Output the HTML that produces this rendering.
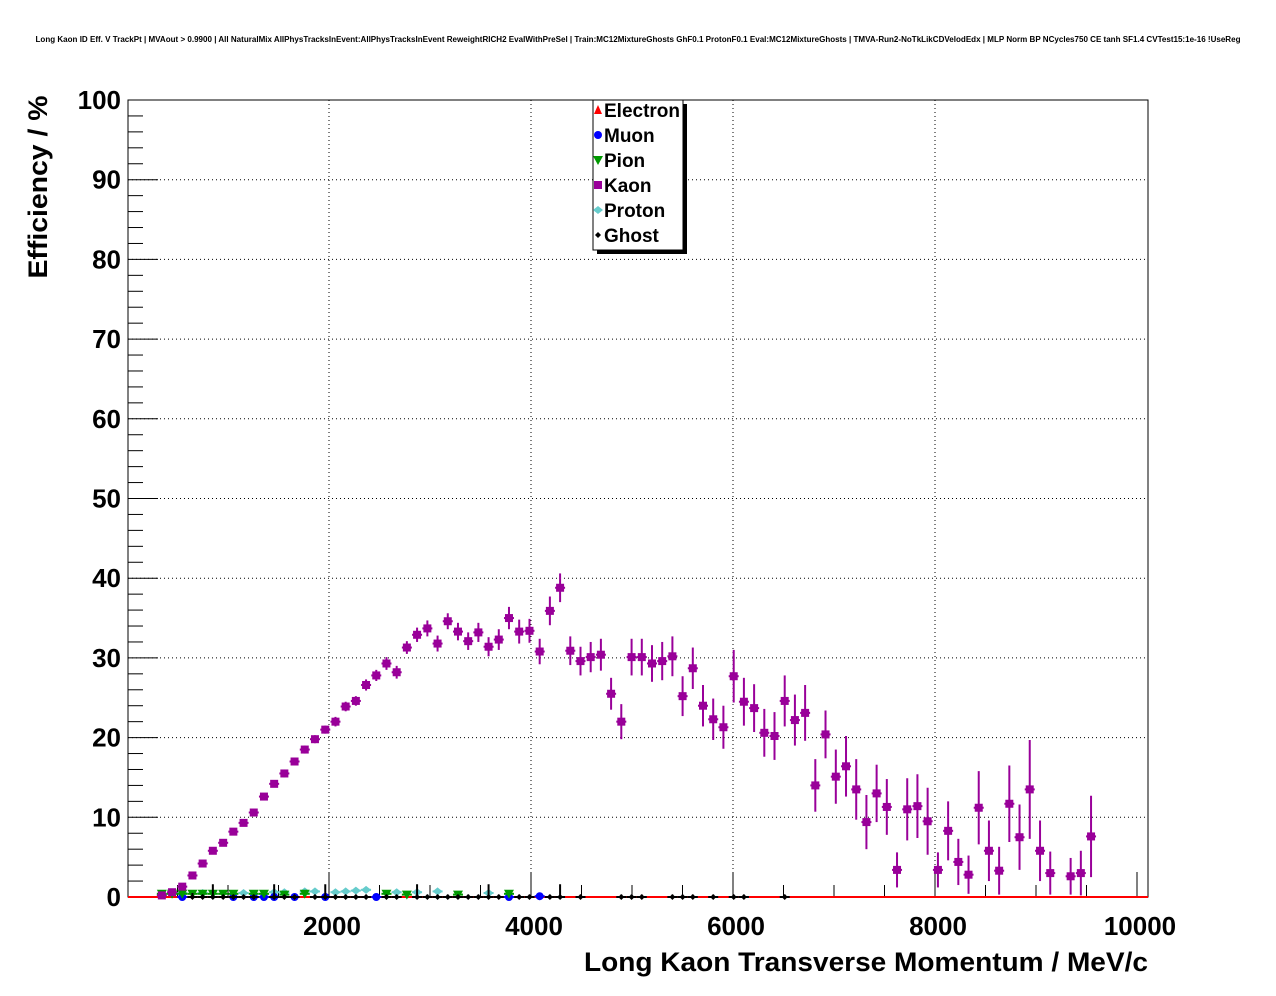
<!DOCTYPE html>
<html><head><meta charset="utf-8"><style>
html,body{margin:0;padding:0;background:#fff}
svg{display:block;font-family:"Liberation Sans",sans-serif}
</style></head><body>
<svg id="c" width="1276" height="996" xmlns="http://www.w3.org/2000/svg">
<rect width="1276" height="996" fill="#fff"/>
<text x="638" y="42" font-size="8" font-weight="bold" text-anchor="middle" textLength="1205" lengthAdjust="spacingAndGlyphs">Long Kaon ID Eff. V TrackPt | MVAout &gt; 0.9900 | All NaturalMix AllPhysTracksInEvent:AllPhysTracksInEvent ReweightRICH2 EvalWithPreSel | Train:MC12MixtureGhosts GhF0.1 ProtonF0.1 Eval:MC12MixtureGhosts | TMVA-Run2-NoTkLikCDVelodEdx | MLP Norm BP NCycles750 CE tanh SF1.4 CVTest15:1e-16 !UseReg</text>
<g id="grid"></g>
<g id="axes"></g>
<g id="series"></g>
<text x="47" y="187" font-size="27" font-weight="bold" text-anchor="middle" transform="rotate(-90 47 187)" textLength="183" lengthAdjust="spacingAndGlyphs">Efficiency / %</text>
<text x="1148" y="971" font-size="27" font-weight="bold" text-anchor="end" textLength="564" lengthAdjust="spacingAndGlyphs">Long Kaon Transverse Momentum / MeV/c</text>
<g id="legend"></g>
</svg>
<script>
const xTicks=[2000,4000,6000,8000,10000];
const yTicks=[0,10,20,30,40,50,60,70,80,90,100];
const kaonX=[345,446,547,648,749,850,952,1053,1154,1255,1356,1457,1558,1659,1760,1861,1963,2064,2165,2266,2367,2468,2569,2670,2771,2872,2974,3075,3176,3277,3378,3479,3580,3681,3782,3883,3985,4086,4187,4288,4389,4490,4591,4692,4793,4894,4996,5097,5198,5299,5400,5501,5602,5703,5804,5905,6007,6108,6209,6310,6411,6512,6613,6714,6815,6916,7018,7119,7220,7321,7422,7523,7624,7725,7826,7927,8029,8130,8231,8332,8433,8534,8635,8736,8837,8938,9040,9141,9343,9444,9545];
const kaonY=[0.2,0.6,1.3,2.7,4.2,5.8,6.8,8.2,9.3,10.6,12.6,14.2,15.5,17.0,18.5,19.8,21.0,22.0,23.9,24.6,26.6,27.8,29.3,28.2,31.3,32.9,33.7,31.8,34.6,33.3,32.1,33.2,31.4,32.3,35.0,33.3,33.4,30.8,35.9,38.8,30.9,29.6,30.1,30.4,25.5,22.0,30.1,30.1,29.3,29.6,30.2,25.2,28.7,24.0,22.3,21.3,27.7,24.5,23.7,20.6,20.2,24.6,22.2,23.1,14.0,20.4,15.1,16.4,13.5,9.4,13.0,11.3,3.4,11.0,11.4,9.5,3.4,8.3,4.4,2.8,11.2,5.8,3.3,11.7,7.5,13.5,5.8,3.0,2.6,3.0,7.6];
const kaonErr=[0.1,0.3,0.3,0.3,0.3,0.3,0.3,0.4,0.4,0.4,0.4,0.4,0.5,0.5,0.5,0.5,0.5,0.6,0.6,0.6,0.7,0.7,0.8,0.8,0.8,0.9,1,1,1,1.1,1.1,1.2,1.2,1.3,1.4,1.5,1.5,1.6,1.8,1.8,1.8,1.8,1.9,2,2,2.2,2.3,2.3,2.3,2.4,2.5,2.5,2.6,2.6,2.6,2.7,3.3,3,3,3,3,3.2,3.2,3.5,3.3,3.0,3.4,3.8,3.8,3.4,3.6,3.5,2.2,3.9,4,4.2,2.2,3.7,2.9,2.4,4.6,3.8,3,4.8,4.1,6.2,3.8,2.7,2.3,2.8,5.1];
const pionX=[345,446,547,648,749,850,952,1053,1255,1356,1558,1760,2569,2771,3277,3782];
const pionY=[0.4,0.4,0.4,0.4,0.4,0.4,0.4,0.4,0.4,0.4,0.3,0.4,0.4,0.3,0.3,0.4];
const protonX=[547,749,1154,1457,1558,1760,1861,2064,2165,2266,2367,2670,2872,3075,3580];
const protonY=[0.5,0.5,0.5,0.6,0.6,0.7,0.7,0.6,0.7,0.8,0.9,0.6,0.6,0.7,0.5];
const muonX=[547,1053,1255,1356,1457,1659,1963,2468,3782,4086];
const muonY=[0,0,0,0,0,0,0,0,0,0.1];
const ghostX=[648,749,850,952,1053,1154,1255,1457,1558,1659,1861,1963,2064,2165,2266,2367,2569,2670,2872,2974,3075,3176,3277,3378,3479,3580,3681,3883,3985,4187,4288,4490,4894,4996,5097,5400,5501,5602,5804,6007,6108,6512];
const ghostY=[0,0,0,0,0,0,0,0,0,0,0,0,0,0,0,0,0,0,0,0,0,0,0,0,0,0,0,0,0,0,0,0,0,0,0,0,0,0,0,0,0,0];
const ghostErr=[0.5,0.3,1.6,0.3,0.3,0.3,0.3,1.6,0.3,0.3,0.3,1.6,0.3,0.3,0.3,0.3,0.3,0.3,1.6,0.3,0.3,0.3,0.3,0.3,0.3,1.6,0.3,0.3,0.3,0.3,1.6,0.3,0.3,0.3,0.3,0.3,0.3,0.3,0.3,0.3,0.3,0.3];
const legendLabels=["Electron","Muon","Pion","Kaon","Proton","Ghost"];

const NS="http://www.w3.org/2000/svg";
const L=128,R=1148,T=100,B=897;
const X=v=>127+v*0.101;
const Y=v=>897-v*7.97;
function mk(tag,attrs,parent){const e=document.createElementNS(NS,tag);for(const k in attrs)e.setAttribute(k,attrs[k]);parent.appendChild(e);return e;}
const grid=document.getElementById('grid'),axes=document.getElementById('axes'),ser=document.getElementById('series'),leg=document.getElementById('legend');
xTicks.forEach(t=>{if(t<10000){const l=mk('line',{x1:X(t),x2:X(t),y1:T,y2:B,stroke:'#000','stroke-dasharray':'1,3','stroke-width':1},grid);

}});
yTicks.forEach(t=>{if(t>0&&t<100){const l=mk('line',{x1:L,x2:R,y1:Y(t),y2:Y(t),stroke:'#000','stroke-dasharray':'1,3','stroke-width':1},grid);

}});
const fr=mk('rect',{x:L,y:T,width:R-L,height:B-T,fill:'none',stroke:'#000','stroke-width':1},axes);


for(let v=500;v<=10000;v+=500){const maj=v%2000===0;mk('line',{x1:X(v),x2:X(v),y1:B,y2:B-(maj?25:12),stroke:'#000'},axes);}
xTicks.forEach(t=>{const tx=mk('text',{x:X(t)+3,y:935,'font-size':26,'font-weight':'bold','text-anchor':'middle'},axes);tx.textContent=t;

});
for(let v=0;v<=100;v+=2){const maj=v%10===0;mk('line',{x1:L,x2:L+(maj?30:15),y1:Y(v),y2:Y(v),stroke:'#000'},axes);}
yTicks.forEach(t=>{const tx=mk('text',{x:121,y:Y(t)+9,'font-size':26,'font-weight':'bold','text-anchor':'end'},axes);tx.textContent=t;

});
const el=mk('line',{x1:L,x2:R,y1:Y(0),y2:Y(0),stroke:'#f00','stroke-width':2},ser);


function marker(type,x,y,col,g){
 if(type==='sq')return mk('rect',{x:x-4,y:y-4,width:8,height:8,fill:col},g);
 if(type==='circ')return mk('circle',{cx:x,cy:y,r:4,fill:col},g);
 if(type==='tdown')return mk('polygon',{points:`${x-5},${y-4} ${x+5},${y-4} ${x},${y+5}`,fill:col},g);
 if(type==='tup')return mk('polygon',{points:`${x-4},${y+4} ${x+4},${y+4} ${x},${y-5}`,fill:col},g);
 if(type==='dia')return mk('polygon',{points:`${x},${y-3} ${x+3},${y} ${x},${y+3} ${x-3},${y}`,fill:col},g);
 if(type==='cross')return mk('polygon',{points:`${x-5},${y} ${x},${y-4} ${x+5},${y} ${x},${y+4}`,fill:col},g);
}
function series(xs,ys,errs,type,col,name){
 const g=mk('g',{},ser);
 
 
 xs.forEach((xv,i)=>{const px=X(xv),py=Y(ys[i]);
  if(errs){const e=errs[i];mk('line',{x1:px,x2:px,y1:Y(ys[i]+e),y2:Math.min(B,Y(ys[i]-e)),stroke:col,'stroke-width':2},g);}
  mk('line',{x1:px-5,x2:px+5,y1:py,y2:py,stroke:col,'stroke-width':2},g);
  const m=marker(type,px,py,col,g);
  
  
 });
}
series(protonX,protonY,null,'cross','#66cccc','proton-series');
series(muonX,muonY,null,'circ','#0000ff','muon-series');
series(pionX,pionY,null,'tdown','#009900','pion-series');
series(ghostX,ghostY,ghostErr,'dia','#000','ghost-series');
series(kaonX,kaonY,kaonErr,'sq','#990099','kaon-series');
mk('rect',{x:597,y:104,width:90,height:150,fill:'#000'},leg);
const lb=mk('rect',{x:593,y:100,width:90,height:150,fill:'#fff',stroke:'#000'},leg);


const lt=['tup','circ','tdown','sq','cross','dia'],lc=['#f00','#0000ff','#009900','#990099','#66cccc','#000'];
legendLabels.forEach((s,i)=>{const yy=110+25*i;const g=mk('g',{},leg);
 
 
 marker(lt[i],598,yy,lc[i],g);
 const t=mk('text',{x:604,y:yy+7,'font-size':19,'font-weight':'bold'},g);t.textContent=s;});
</script>
</body></html>
